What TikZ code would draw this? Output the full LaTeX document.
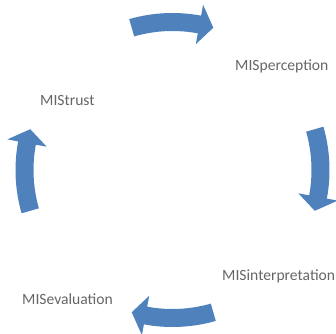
\documentclass[tikz,border=0pt]{standalone}
\usepackage{fontspec}
\setmainfont{Carlito}
\definecolor{arrowblue}{HTML}{4F81BD}
\definecolor{labelgray}{HTML}{666666}
\begin{document}
\begin{tikzpicture}[x=1pt,y=1pt,
  lbl/.style={anchor=base west, inner sep=0pt, text=labelgray, font=\fontsize{15.6}{18}\selectfont},
  cyclearrow/.style={fill=arrowblue, draw=none}]
\useasboundingbox (0,0) rectangle (336,333);
\coordinate (c) at (172.5,163);
\foreach \a in {90,0,-90,180} {
  \fill[cyclearrow] ([shift={(c)}] \a+16:157)
    arc[start angle=\a+16, end angle=\a-10.5, radius=157]
    -- ([shift={(c)}] \a-10.5:168)
    -- ([shift={(c)}] \a-16:148)
    -- ([shift={(c)}] \a-10.5:128)
    -- ([shift={(c)}] \a-10.5:139)
    arc[start angle=\a-10.5, end angle=\a+16, radius=139]
    -- cycle;
}
\node[lbl] (trust) at (40,228) {MIStrust};
\node[lbl] (perc) at (235,263) {MISperception};
\node[lbl] (interp) at (222,53) {MISinterpretation};
\node[lbl] (eval) at (22,29) {MISevaluation};
\end{tikzpicture}
\end{document}
